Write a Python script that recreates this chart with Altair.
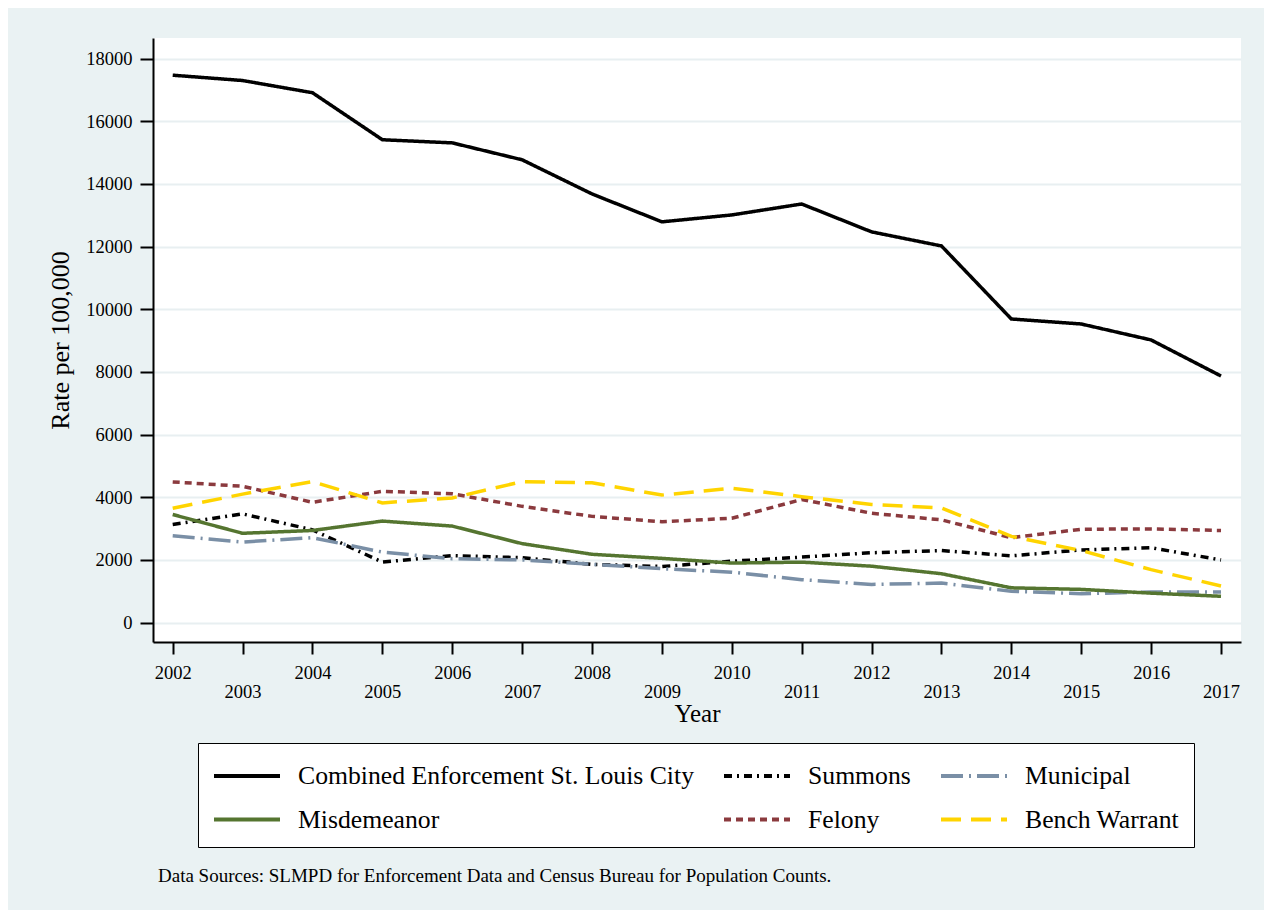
import altair as alt
import pandas as pd

years = list(range(2002, 2018))
combined = [17470, 17300, 16910, 15410, 15310, 14770, 13680, 12790, 13010, 13360, 12470, 12020, 9690, 9530, 9020, 7870]
summons = [3130, 3470, 2960, 1930, 2140, 2070, 1860, 1790, 1960, 2090, 2230, 2300, 2130, 2320, 2390, 2000]
municipal = [2770, 2570, 2710, 2250, 2040, 2000, 1860, 1720, 1610, 1370, 1220, 1260, 1000, 920, 980, 980]
misdemeanor = [3450, 2850, 2940, 3240, 3080, 2520, 2180, 2050, 1900, 1930, 1800, 1560, 1110, 1060, 940, 840]
felony = [4490, 4350, 3840, 4190, 4110, 3710, 3390, 3220, 3330, 3930, 3490, 3280, 2710, 2980, 2990, 2940]
bench = [3650, 4100, 4500, 3820, 3980, 4500, 4460, 4070, 4290, 4020, 3770, 3660, 2750, 2300, 1690, 1170]

series_names = ["Combined Enforcement St. Louis City", "Summons", "Municipal",
                "Misdemeanor", "Felony", "Bench Warrant"]
series_values = [combined, summons, municipal, misdemeanor, felony, bench]
series_colors = ["#000000", "#000000", "#7a8fa6", "#557530", "#8b3a3e", "#ffd400"]
series_dashes = [[1, 0], [8, 5, 2, 5], [22, 6, 2, 6], [1, 0], [7, 5], [20, 10]]
draw_order = [0, 2, 1, 3, 4, 5]
y_ticks = list(range(0, 18001, 2000))
caption = "Data Sources: SLMPD for Enforcement Data and Census Bureau for Population Counts."

rows = []
for name, vals, o in zip(series_names, series_values, draw_order):
    for yr, v in zip(years, vals):
        rows.append({"Year": yr, "Rate": v, "series": name, "ord": o})
df = pd.DataFrame(rows)

FONT = "Liberation Serif"

chart = alt.Chart(df).mark_line(strokeWidth=3.5, strokeCap="butt").encode(
    x=alt.X("Year:Q",
            scale=alt.Scale(domain=[2001.718, 2017.286], nice=False, zero=False),
            axis=alt.Axis(values=years, format="d", grid=False, title="Year",
                          labelExpr="datum.value % 2 == 1 ? ['', datum.label] : datum.label",
                          labelLineHeight=19, labelBaseline="top", labelPadding=9,
                          labelFontSize=18.5, tickSize=12, tickWidth=2, tickColor="black",
                          domainColor="black", domainWidth=2, titleFontSize=25,
                          titlePadding=1, titleFontWeight="normal")),
    y=alt.Y("Rate:Q",
            scale=alt.Scale(domain=[-619, 18657], nice=False, zero=False),
            axis=alt.Axis(values=y_ticks, format="d", grid=True, gridColor="#e8eff1",
                          gridWidth=2, title="Rate per 100,000", labelFontSize=18.5,
                          labelPadding=8, tickSize=13, tickWidth=2, tickColor="black",
                          domainColor="black", domainWidth=2, titleFontSize=26,
                          titlePadding=12, titleFontWeight="normal")),
    color=alt.Color("series:N",
                    scale=alt.Scale(domain=series_names, range=series_colors),
                    legend=alt.Legend(title=None, orient="none", legendX=45, legendY=705,
                                      columns=3, direction="horizontal",
                                      symbolType="M-1,0L3,0", symbolSize=1089,
                                      symbolStrokeWidth=4, labelFontSize=25.7,
                                      labelFont=FONT, labelLimit=0, labelOffset=49,
                                      strokeColor="black", fillColor="white",
                                      padding=14, columnPadding=22, rowPadding=12,
                                      labelColor="black")),
    strokeDash=alt.StrokeDash("series:N",
                              scale=alt.Scale(domain=series_names, range=series_dashes),
                              legend=None),
    order=alt.Order("ord:Q"),
    detail="series:N",
).properties(
    width=1088, height=604,
    background="#eaf2f3",
    autosize=alt.AutoSizeParams(type="none"),
    padding={"left": 145, "top": 30, "right": 23, "bottom": 268},
    title=alt.TitleParams(caption, orient="bottom", anchor="start", frame="group",
                          fontSize=19, font=FONT, fontWeight="normal", color="black",
                          dx=5, offset=19),
).configure_view(
    fill="white", strokeWidth=0
).configure_axis(
    labelFont=FONT, titleFont=FONT, labelColor="black", titleColor="black"
)

chart.save("out.html", embed_options={"renderer": "svg", "actions": False})
